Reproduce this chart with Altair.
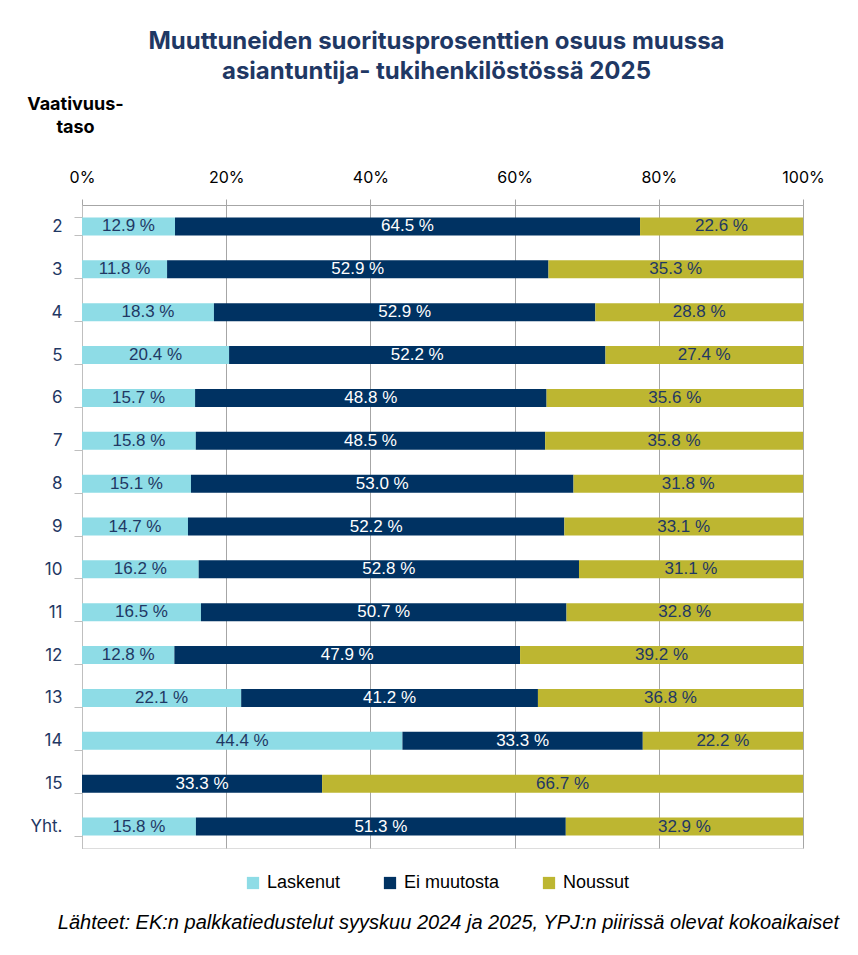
import altair as alt
import pandas as pd

levels = ["2", "3", "4", "5", "6", "7", "8", "9", "10", "11", "12", "13", "14", "15", "Yht."]
laskenut = [12.9, 11.8, 18.3, 20.4, 15.7, 15.8, 15.1, 14.7, 16.2, 16.5, 12.8, 22.1, 44.4, 0.0, 15.8]
ei_muutosta = [64.5, 52.9, 52.9, 52.2, 48.8, 48.5, 53.0, 52.2, 52.8, 50.7, 47.9, 41.2, 33.3, 33.3, 51.3]
noussut = [22.6, 35.3, 28.8, 27.4, 35.6, 35.8, 31.8, 33.1, 31.1, 32.8, 39.2, 36.8, 22.2, 66.7, 32.9]
series = ["Laskenut", "Ei muutosta", "Noussut"]
colors = ["#8EDCE6", "#003262", "#BDB631"]
x_ticks = [0, 0.2, 0.4, 0.6, 0.8, 1.0]

title_lines = ["Muuttuneiden suoritusprosenttien osuus muussa",
               "asiantuntija- tukihenkilöstössä 2025"]
y_title = ["Vaativuus-", "taso"]
source = "Lähteet: EK:n palkkatiedustelut syyskuu 2024 ja 2025, YPJ:n piirissä olevat kokoaikaiset"

rows = []
for i, lev in enumerate(levels):
    for j, (s, vals) in enumerate(zip(series, [laskenut, ei_muutosta, noussut])):
        rows.append({"level": lev, "series": s, "order": j, "value": vals[i]})
df = pd.DataFrame(rows)

NAVY = "#1F3864"
FONT = "Liberation Sans, Arial, sans-serif"

base = alt.Chart(df).transform_stack(
    as_=["x0", "x1"], stack="value", groupby=["level"],
    sort=[alt.SortField("order", order="ascending")], offset="normalize"
).transform_calculate(
    mid="(datum.x0 + datum.x1) / 2",
    label="format(datum.value, '.1f') + ' %'"
)

yenc = alt.Y(
    "level:N", sort=levels,
    scale=alt.Scale(paddingInner=0.58, paddingOuter=0.29),
    axis=alt.Axis(
        title=y_title, titleAngle=0, titleX=-7, titleY=-96, titleAlign="center",
        titleBaseline="alphabetic", titleFontSize=18, titleFontWeight="bold",
        titleColor="#000000", titleFont="Inter", titleLineHeight=23,
        labelColor=NAVY, labelFontSize=17, labelFont="Inter", labelPadding=12,
        tickBand="extent", tickSize=8, tickColor="#BFBFBF", domainColor="#BFBFBF",
        grid=False,
    ),
)

bars = base.mark_bar().encode(
    y=yenc,
    x=alt.X(
        "x0:Q", scale=alt.Scale(domain=[0, 1], nice=False),
        axis=alt.Axis(
            orient="top", values=x_ticks, format=".0%", title=None,
            labelFontSize=16, labelColor="#000000", labelFont="Inter",
            labelPadding=14, tickSize=6, tickColor="#A6A6A6",
            domainColor="#A6A6A6", gridColor="#A6A6A6", grid=True,
            labelFlush=False,
        ),
    ),
    x2="x1:Q",
    color=alt.Color(
        "series:N", sort=series,
        scale=alt.Scale(domain=series, range=colors),
        legend=alt.Legend(
            title=None, orient="none", direction="horizontal",
            legendX=162, legendY=669, symbolType="square", symbolSize=150,
            symbolStrokeWidth=0, labelFontSize=18, labelFont=FONT,
            labelColor="#000000", columnPadding=40, symbolOffset=0,
            labelOffset=5,
        ),
    ),
    order=alt.Order("order:Q"),
)

labels = base.transform_filter("datum.value > 0").mark_text(
    font=FONT, fontSize=17, baseline="middle", align="center"
).encode(
    y=alt.Y("level:N", sort=levels),
    x=alt.X("mid:Q"),
    text="label:N",
    color=alt.condition("datum.series == 'Ei muutosta'", alt.value("#FFFFFF"), alt.value(NAVY)),
)

src = alt.Chart(pd.DataFrame({"t": [source]})).mark_text(
    align="right", baseline="alphabetic", fontStyle="italic", fontSize=20,
    font=FONT, color="#000000"
).encode(x=alt.value(757), y=alt.value(724), text="t:N")

chart = alt.layer(bars, labels, src).properties(
    width=721, height=643,
    title=alt.TitleParams(
        text=title_lines, anchor="middle", color=NAVY, fontSize=24,
        font="Inter", fontWeight="bold", lineHeight=30, offset=11, dx=-6,
    ),
    padding={"left": 74, "top": 197, "right": 40, "bottom": 99},
    autosize=alt.AutoSizeParams(type="none"),
).configure_view(stroke="#A6A6A6").configure(background="#FFFFFF")

chart.save("out.html", embed_options={"renderer": "svg", "actions": False})
